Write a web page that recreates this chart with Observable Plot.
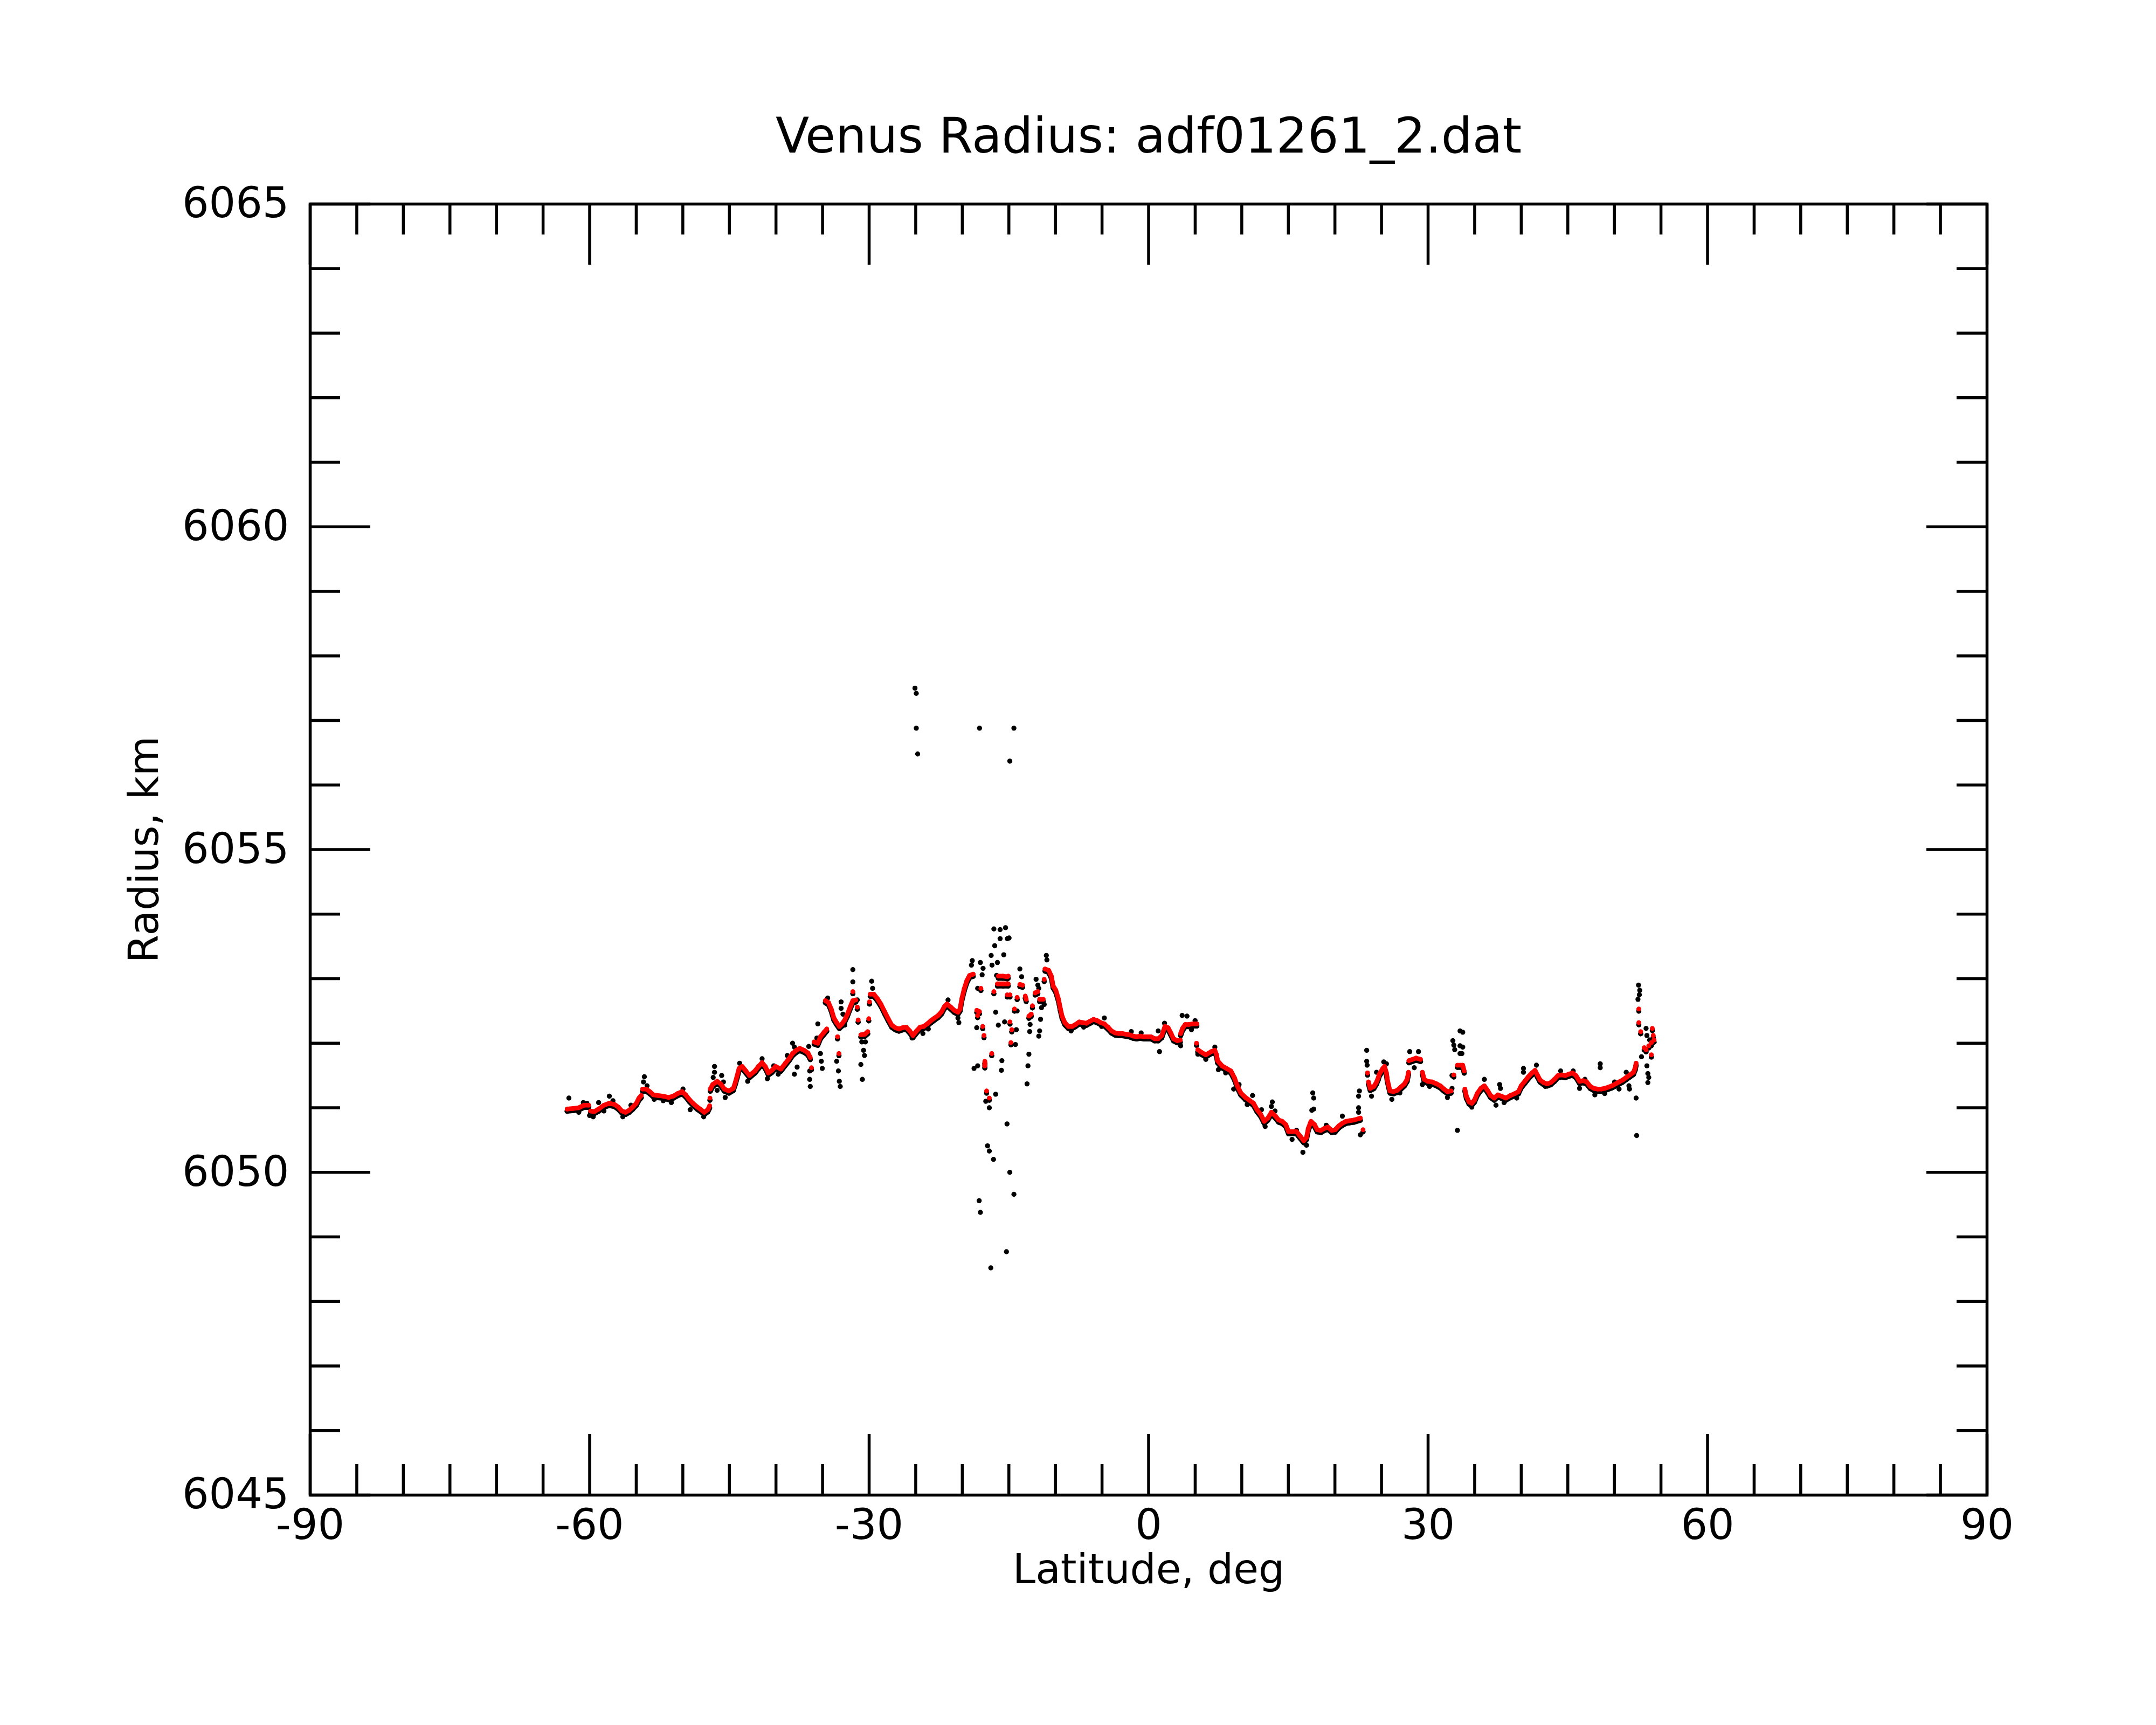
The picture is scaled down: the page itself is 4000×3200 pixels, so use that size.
<!DOCTYPE html>
<html><head><meta charset="utf-8">
<script src="https://cdn.jsdelivr.net/npm/d3@7"></script>
<script src="https://cdn.jsdelivr.net/npm/@observablehq/plot@0.6"></script>
<style>body{margin:0;background:#fff}</style>
</head><body><div id="chart"></div>
<script>
// Smoothed radius trace (red), as runs of [latitude, radius]
const redSegments = [
  [[-62.42,6050.98],[-61.75,6050.99],[-61.17,6051.00],[-60.59,6051.04],[-60.11,6051.04]],
  [[-59.91,6050.95],[-59.53,6050.94],[-59.04,6050.98],[-58.47,6051.04],[-57.89,6051.07],[-57.31,6051.05],[-56.92,6051.01],[-56.54,6050.95],[-56.15,6050.93],[-55.77,6050.96],[-55.38,6051.01],[-54.99,6051.07],[-54.71,6051.15],[-54.46,6051.19]],
  [[-54.32,6051.29],[-53.93,6051.29],[-53.55,6051.25],[-53.16,6051.20],[-52.68,6051.19],[-52.10,6051.18],[-51.52,6051.16],[-51.04,6051.18],[-50.56,6051.22],[-50.08,6051.25],[-49.69,6051.20],[-49.31,6051.13],[-48.92,6051.07],[-48.44,6051.01],[-48.05,6050.97],[-47.70,6050.93],[-47.32,6050.97],[-47.12,6051.03]],
  [[-47.09,6051.15]],
  [[-47.05,6051.29],[-46.80,6051.36],[-46.32,6051.41],[-45.93,6051.37],[-45.54,6051.29],[-45.06,6051.26],[-44.58,6051.30],[-44.35,6051.40],[-44.16,6051.50],[-43.96,6051.61],[-43.62,6051.64],[-43.23,6051.57],[-42.84,6051.50],[-42.26,6051.57],[-41.88,6051.64],[-41.49,6051.70],[-41.15,6051.64],[-40.82,6051.54],[-40.43,6051.58],[-40.05,6051.64],[-39.47,6051.60],[-38.99,6051.69],[-38.60,6051.76],[-38.22,6051.84],[-37.83,6051.89],[-37.44,6051.92],[-36.96,6051.89],[-36.57,6051.85],[-36.32,6051.78]],
  [[-36.19,6051.62]],
  [[-35.90,6052.02],[-35.51,6052.00],[-35.23,6052.10],[-34.84,6052.17],[-34.55,6052.22]],
  [[-34.70,6052.66],[-34.36,6052.63],[-34.07,6052.53],[-33.78,6052.39],[-33.49,6052.32],[-33.20,6052.26],[-32.91,6052.30],[-32.62,6052.36],[-32.33,6052.45],[-32.04,6052.56],[-31.75,6052.66],[-31.43,6052.67]],
  [[-31.75,6052.80]],[[-31.27,6052.56]],[[-31.18,6052.36]],[[-33.39,6052.10]],[[-33.24,6051.84]],
  [[-30.89,6052.13],[-30.46,6052.14],[-30.15,6052.18]],
  [[-30.04,6052.38]],[[-29.96,6052.64]],
  [[-29.88,6052.76],[-29.50,6052.76],[-29.11,6052.69],[-28.72,6052.60],[-28.34,6052.49],[-27.95,6052.38],[-27.57,6052.28],[-27.18,6052.24],[-26.80,6052.22],[-26.41,6052.24],[-26.02,6052.25],[-25.64,6052.19],[-25.29,6052.12],[-24.91,6052.19],[-24.52,6052.25],[-24.14,6052.26],[-23.75,6052.30],[-23.36,6052.35],[-22.98,6052.39],[-22.59,6052.43],[-22.21,6052.49],[-21.92,6052.57],[-21.63,6052.61],[-21.24,6052.56],[-20.86,6052.51],[-20.47,6052.48],[-20.24,6052.53],[-20.05,6052.69],[-19.80,6052.84],[-19.51,6052.97],[-19.22,6053.05],[-18.83,6053.07]],
  [[-18.44,6052.51],[-18.16,6052.49]],
  [[-18.35,6052.43]],[[-18.00,6052.85]],[[-17.81,6052.26]],[[-17.67,6052.12]],
  [[-17.58,6051.72],[-17.58,6051.65]],
  [[-17.39,6051.26]],[[-17.10,6051.15]],[[-16.84,6051.84]],[[-16.61,6052.80]],
  [[-16.23,6052.92],[-15.61,6052.92],[-15.07,6052.92]],
  [[-16.13,6053.04],[-15.65,6053.04],[-15.17,6053.03],[-15.07,6053.04]],
  [[-15.17,6052.75]],[[-14.88,6052.75]],[[-14.40,6052.53]],[[-14.88,6052.33]],[[-14.69,6052.21]],[[-14.78,6052.01]],[[-14.11,6052.71]],
  [[-13.82,6052.91],[-13.53,6052.90]],
  [[-13.24,6052.73],[-13.14,6052.68]],
  [[-12.85,6052.42],[-12.60,6052.45]],
  [[-12.47,6052.58]],
  [[-12.18,6052.78],[-11.89,6052.80]],
  [[-11.70,6052.68],[-11.31,6052.68]],
  [[-11.21,6052.99]],
  [[-11.12,6053.15],[-10.73,6053.13],[-10.44,6053.04],[-10.25,6052.89],[-9.96,6052.82],[-9.67,6052.68],[-9.48,6052.54],[-9.29,6052.42],[-9.00,6052.32],[-8.61,6052.26],[-8.22,6052.26],[-7.84,6052.29],[-7.45,6052.33],[-7.07,6052.32],[-6.68,6052.31],[-6.30,6052.34],[-5.91,6052.37],[-5.52,6052.35],[-5.14,6052.32],[-4.75,6052.30],[-4.37,6052.25],[-3.98,6052.19],[-3.60,6052.16],[-3.21,6052.15],[-2.82,6052.15],[-2.44,6052.14],[-2.05,6052.13],[-1.67,6052.11],[-1.28,6052.10],[-0.90,6052.11],[-0.51,6052.10],[-0.12,6052.10],[0.26,6052.10],[0.65,6052.07],[1.03,6052.07],[1.42,6052.12],[1.75,6052.26],[2.09,6052.24],[2.38,6052.16],[2.67,6052.07],[3.06,6052.04],[3.40,6052.05]],
  [[3.44,6052.15],[3.64,6052.23],[3.93,6052.29],[4.31,6052.29],[4.79,6052.30],[5.18,6052.30]],
  [[5.14,6052.00]],
  [[5.28,6051.90],[5.66,6051.86],[6.14,6051.82],[6.72,6051.87],[7.11,6051.89],[7.30,6051.82],[7.40,6051.73],[7.88,6051.65],[8.36,6051.61],[8.84,6051.57],[9.23,6051.46],[9.52,6051.34],[9.90,6051.23],[10.39,6051.16],[10.87,6051.11],[11.26,6051.07],[11.64,6050.97],[12.03,6050.90],[12.41,6050.79],[12.80,6050.84],[13.18,6050.93],[13.57,6050.88],[13.96,6050.81],[14.34,6050.79],[14.73,6050.74],[15.02,6050.63],[15.40,6050.63],[15.88,6050.63],[16.27,6050.56],[16.66,6050.49],[16.95,6050.54],[17.14,6050.68],[17.43,6050.79],[17.81,6050.74],[18.10,6050.66],[18.49,6050.65],[18.87,6050.68],[19.26,6050.70],[19.65,6050.65],[20.03,6050.66],[20.42,6050.72],[20.80,6050.76],[21.19,6050.79],[21.57,6050.80],[22.06,6050.81],[22.73,6050.84]],
  [[23.02,6050.66]],[[23.50,6051.54]],
  [[23.60,6051.40],[23.79,6051.30],[24.18,6051.33],[24.47,6051.40],[24.66,6051.47],[24.76,6051.52],[25.14,6051.61],[25.33,6051.64],[25.53,6051.54],[25.62,6051.44],[25.78,6051.34],[25.91,6051.26],[26.30,6051.25],[26.69,6051.27],[27.07,6051.32],[27.46,6051.37],[27.75,6051.44],[27.90,6051.55]],
  [[27.94,6051.73],[28.32,6051.75],[28.71,6051.77],[29.19,6051.75]],
  [[29.39,6051.55],[29.58,6051.44],[29.96,6051.41],[30.45,6051.40],[30.93,6051.37],[31.31,6051.34],[31.70,6051.29],[32.08,6051.25],[32.47,6051.26]],
  [[32.76,6051.51]],
  [[33.15,6051.66],[33.50,6051.66],[33.72,6051.66],[33.88,6051.57]],
  [[33.95,6051.29],[34.11,6051.18],[34.40,6051.09],[34.69,6051.07],[34.98,6051.12],[35.27,6051.22],[35.65,6051.30],[36.04,6051.34],[36.38,6051.27],[36.71,6051.19],[37.10,6051.15],[37.48,6051.20],[37.87,6051.18],[38.35,6051.15],[38.83,6051.19],[39.32,6051.22],[39.70,6051.25],[39.99,6051.34],[40.38,6051.41],[40.76,6051.48],[41.15,6051.54],[41.48,6051.58],[41.73,6051.51],[42.02,6051.43],[42.40,6051.39],[42.79,6051.37],[43.17,6051.39],[43.56,6051.44],[43.94,6051.50],[44.33,6051.51],[44.72,6051.50],[45.10,6051.52],[45.49,6051.54],[45.87,6051.50],[46.26,6051.41],[46.65,6051.42],[47.03,6051.40],[47.42,6051.33],[47.80,6051.30],[48.19,6051.29],[48.57,6051.29],[48.96,6051.30],[49.35,6051.32],[49.73,6051.34],[50.12,6051.37],[50.50,6051.40],[50.89,6051.43],[51.27,6051.47],[51.66,6051.51],[52.05,6051.55],[52.24,6051.62],[52.33,6051.69]],
  [[52.62,6052.53]],[[52.62,6052.32]],[[52.82,6052.18]],[[53.20,6051.93]],[[53.40,6051.90]],[[53.69,6051.96]],[[53.97,6052.01]],[[54.26,6052.05]],[[54.17,6052.12]],[[54.07,6052.23]],[[53.97,6051.82]]
];

// Raw measurements (black) lying off the smoothed trace, [latitude, radius]
const blackOutliers = [
  [-62.23,6051.15],[-61.17,6050.93],[-60.68,6051.08],[-60.30,6051.07],[-60.01,6050.88],[-59.62,6050.86],[-59.04,6051.08],[-58.47,6050.95],[-57.89,6051.18],[-57.50,6051.11],
  [-56.44,6050.86],[-55.57,6051.04],[-54.13,6051.48],[-54.22,6051.40],[-53.84,6051.34],[-53.07,6051.13],[-52.10,6051.11],[-51.23,6051.08],[-49.98,6051.29],[-49.21,6050.97],
  [-48.63,6051.02],[-47.76,6050.86],[-46.60,6051.64],[-46.60,6051.55],[-46.74,6051.47],[-45.83,6051.50],[-45.64,6051.40],[-46.32,6051.27],[-45.45,6051.16],[-43.90,6051.69],
  [-43.04,6051.41],[-41.49,6051.76],[-40.92,6051.45],[-40.24,6051.65],[-39.76,6051.52],[-38.79,6051.81],[-38.22,6052.00],[-38.02,6051.94],[-37.73,6051.63],[-38.02,6051.52],
  [-36.48,6051.95],[-36.38,6051.57],[-36.38,6051.44],[-36.32,6051.33],[-35.51,6052.30],[-35.61,6052.08],[-35.23,6051.84],[-35.13,6051.72],[-35.03,6051.61],[-34.45,6052.70],
  [-33.01,6052.64],[-33.01,6052.54],[-32.81,6052.45],[-32.62,6052.28],[-31.75,6053.14],[-31.75,6052.95],[-31.27,6052.67],[-33.49,6051.72],[-33.30,6051.57],[-33.20,6051.41],
  [-33.10,6051.33],[-30.79,6052.02],[-30.40,6052.02],[-30.60,6051.89],[-30.50,6051.81],[-30.89,6051.67],[-30.73,6051.44],[-29.73,6052.96],[-29.63,6052.85],[-25.39,6052.08],
  [-24.23,6052.15],[-23.65,6052.22],[-21.53,6052.67],[-20.47,6052.39],[-20.37,6052.32],[-18.93,6053.28],[-19.02,6053.21],[-18.06,6053.25],[-17.77,6053.16],[-17.87,6053.06],
  [-18.35,6052.85],[-18.45,6052.24],[-18.74,6051.61],[-18.35,6051.65],[-16.61,6053.77],[-15.94,6053.76],[-15.36,6053.79],[-15.94,6053.62],[-15.17,6053.62],[-16.52,6053.51],
  [-15.55,6053.37],[-16.90,6053.36],[-16.81,6053.21],[-16.23,6053.25],[-16.32,6053.05],[-16.42,6052.48],[-16.13,6052.28],[-15.46,6052.33],[-15.75,6051.73],[-15.80,6051.58],
  [-16.42,6051.21],[-17.48,6051.10],[-17.10,6051.00],[-15.20,6050.75],[-17.29,6050.41],[-17.10,6050.33],[-16.65,6050.20],[-18.19,6049.56],[-18.06,6049.38],[-15.26,6048.77],
  [-16.94,6048.52],[-14.46,6049.66],[-14.90,6050.00],[-18.15,6056.88],[-14.46,6056.88],[-14.90,6056.37],[-25.08,6057.50],[-24.94,6057.42],[-24.94,6056.88],[-24.79,6056.48],
  [-14.98,6053.63],[-13.82,6053.15],[-13.63,6053.03],[-14.20,6052.21],[-14.30,6051.98],[-14.11,6052.50],[-12.08,6052.99],[-11.89,6052.90],[-11.79,6052.85],[-11.50,6052.55],
  [-11.21,6052.60],[-11.60,6052.37],[-12.72,6052.29],[-12.76,6052.18],[-11.70,6052.19],[-11.79,6052.11],[-12.85,6051.83],[-12.95,6051.65],[-13.05,6051.37],[-10.98,6053.36],
  [-10.92,6053.29],[-8.32,6052.19],[-6.97,6052.25],[-4.75,6052.39],[-5.04,6052.26],[-1.86,6052.18],[-0.80,6052.16],[1.03,6052.19],[1.17,6051.87],[1.71,6052.31],
  [3.44,6051.96],[3.60,6052.43],[4.12,6052.42],[4.99,6052.35],[4.60,6052.21],[5.28,6051.83],[6.14,6051.75],[7.11,6051.94],[7.49,6051.59],[8.27,6051.54],
  [9.13,6051.29],[9.71,6051.36],[11.16,6051.19],[10.58,6051.05],[12.12,6050.97],[13.28,6051.09],[13.18,6051.02],[12.51,6050.71],[13.57,6050.95],[15.40,6050.51],
  [15.88,6050.65],[16.95,6050.42],[16.56,6050.31],[17.62,6051.23],[17.72,6051.15],[17.72,6050.98],[17.52,6050.96],[19.07,6050.73],[20.03,6050.62],[20.80,6050.87],
  [22.54,6051.00],[22.54,6050.93],[22.73,6050.58],[22.63,6051.26],[22.54,6051.18],[23.41,6051.89],[23.41,6051.72],[23.46,6051.66],[23.93,6051.18],[24.47,6051.55],
  [25.24,6051.71],[25.53,6051.68],[26.11,6051.13],[26.97,6051.23],[28.03,6051.87],[28.97,6051.87],[28.52,6051.62],[29.39,6051.36],[30.16,6051.33],[32.08,6051.16],
  [32.57,6051.30],[32.57,6051.50],[32.66,6052.04],[32.76,6051.97],[32.86,6051.90],[33.43,6052.19],[33.43,6051.96],[33.43,6051.84],[33.15,6050.65],[33.72,6052.17],
  [33.72,6051.94],[33.63,6051.84],[36.04,6051.44],[37.68,6051.36],[37.77,6051.30],[34.69,6051.01],[37.29,6051.04],[38.16,6051.08],[39.51,6051.15],[40.24,6051.61],
  [40.24,6051.55],[41.63,6051.66],[42.59,6051.33],[44.23,6051.57],[45.58,6051.57],[46.84,6051.44],[46.26,6051.30],[48.48,6051.68],[48.48,6051.62],[47.90,6051.20],
  [48.96,6051.22],[50.02,6051.40],[50.50,6051.29],[51.27,6051.55],[51.56,6051.34],[51.62,6051.29],[52.33,6051.15],[52.39,6050.57],[52.59,6052.90],[52.72,6052.82],
  [52.68,6052.75],[52.53,6052.68],[53.40,6052.23],[53.49,6052.12],[53.78,6052.05],[53.97,6051.96],[52.91,6051.79],[53.49,6051.65],[53.59,6051.53],[53.69,6051.47],
  [53.59,6051.39]
];

const xMajor = [-90, -60, -30, 0, 30, 60, 90];
const xMinor = [-85,-80,-75,-70,-65,-55,-50,-45,-40,-35,-25,-20,-15,-10,-5,5,10,15,20,25,35,40,45,50,55,65,70,75,80,85];
const yMajor = [6045, 6050, 6055, 6060, 6065];
const yMinor = [6046,6047,6048,6049,6051,6052,6053,6054,6056,6057,6058,6059,6061,6062,6063,6064];
const titleText = "Venus Radius: adf01261_2.dat";
const xLabel = "Latitude, deg";
const yLabel = "Radius, km";

const red = redSegments.flatMap((seg, i) => seg.map(([lat, r]) => ({lat, r, seg: i})));
const black = blackOutliers.map(([lat, r]) => ({lat, r}));

const FW = 3111, FH = 2395; // frame size in px (margins below)
const lw = 5.5;
const chart = Plot.plot({
  width: 4000, height: 3200,
  marginLeft: 575, marginRight: 314, marginTop: 378, marginBottom: 427,
  style: {fontFamily: "DejaVu Sans", background: "white", color: "black", overflow: "visible"},
  x: {domain: [-90, 90], axis: null},
  y: {domain: [6045, 6065], axis: null},
  marks: [
    // raw data under the smoothed trace
    Plot.line(red, {x: "lat", y: "r", z: "seg", stroke: "black", strokeWidth: 9.4, strokeLinecap: "round", strokeLinejoin: "round", dy: 4}),
    Plot.dot(red, {x: "lat", y: "r", r: 4.7, fill: "black", dy: 4}),
    Plot.dot(black, {x: "lat", y: "r", r: 4.7, fill: "black"}),
    // smoothed trace
    Plot.line(red, {x: "lat", y: "r", z: "seg", stroke: "red", strokeWidth: 8.6, strokeLinecap: "round", strokeLinejoin: "round"}),
    Plot.dot(red, {x: "lat", y: "r", r: 4.3, fill: "red"}),
    // frame and inward ticks
    Plot.frame({stroke: "black", strokeWidth: lw}),
    Plot.tickX(xMajor, {x: d => d, insetTop: FH - 113, stroke: "black", strokeWidth: lw}),
    Plot.tickX(xMinor, {x: d => d, insetTop: FH - 57, stroke: "black", strokeWidth: lw}),
    Plot.tickX(xMajor, {x: d => d, insetBottom: FH - 113, stroke: "black", strokeWidth: lw}),
    Plot.tickX(xMinor, {x: d => d, insetBottom: FH - 57, stroke: "black", strokeWidth: lw}),
    Plot.tickY(yMajor, {y: d => d, insetRight: FW - 112, stroke: "black", strokeWidth: lw}),
    Plot.tickY(yMinor, {y: d => d, insetRight: FW - 56, stroke: "black", strokeWidth: lw}),
    Plot.tickY(yMajor, {y: d => d, insetLeft: FW - 112, stroke: "black", strokeWidth: lw}),
    Plot.tickY(yMinor, {y: d => d, insetLeft: FW - 56, stroke: "black", strokeWidth: lw}),
    // tick labels
    Plot.text(xMajor, {x: d => d, text: d => String(d), frameAnchor: "bottom", dy: 26, lineAnchor: "top", fontSize: 78, fill: "black"}),
    Plot.text(yMajor, {y: d => d, text: d => String(d), frameAnchor: "left", dx: -39, textAnchor: "end", lineAnchor: "middle", fontSize: 78, fill: "black"}),
    // titles
    Plot.text([titleText], {text: d => d, frameAnchor: "top", dy: -96, lineAnchor: "bottom", fontSize: 91, fill: "black"}),
    Plot.text([xLabel], {text: d => d, frameAnchor: "bottom", dy: 163, lineAnchor: "bottom", fontSize: 76, fill: "black"}),
    Plot.text([yLabel], {text: d => d, frameAnchor: "left", dx: -283, rotate: -90, textAnchor: "middle", lineAnchor: "bottom", fontSize: 76, fill: "black"})
  ]
});
document.getElementById("chart").appendChild(chart);
</script>
</body></html>
